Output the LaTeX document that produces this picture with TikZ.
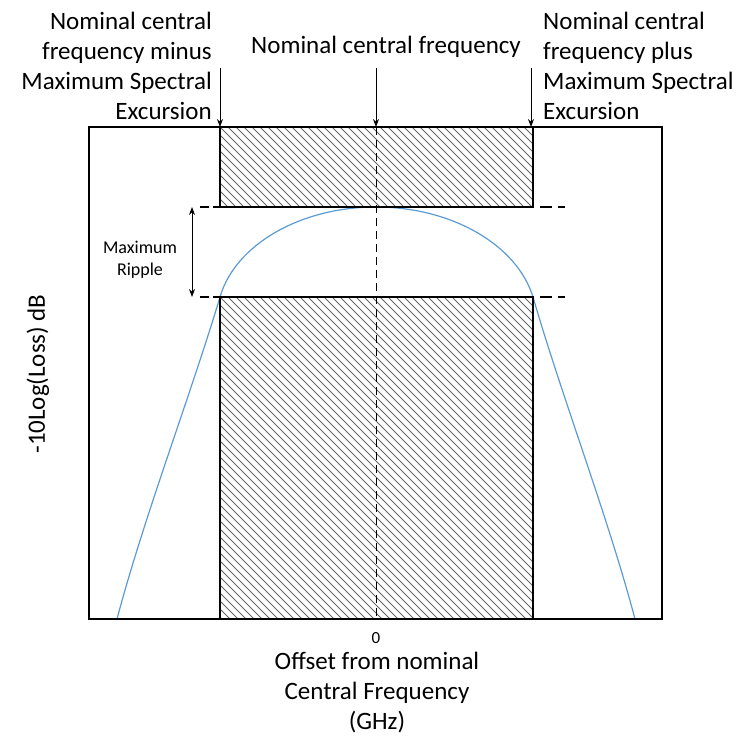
\documentclass[tikz,border=0pt]{standalone}
\usepackage{fontspec}
\setmainfont{Carlito}
\usetikzlibrary{arrows.meta}
\definecolor{curveblue}{HTML}{5B9BD5}
\begin{document}
\begin{tikzpicture}[x=1pt,y=-1pt,
  frame/.style={draw=black, line width=1.2pt},
  hatchline/.style={draw=black!60, line width=1pt},
  guide/.style={draw=black, line width=1pt, dash pattern=on 8pt off 5pt},
  extline/.style={draw=black, line width=1.1pt, dash pattern=on 9pt off 4pt},
  extlineR/.style={draw=black, line width=1.1pt, dash pattern=on 12pt off 6pt},
  pointer/.style={draw=black, line width=1pt, -{Stealth[length=8pt,width=6pt]}},
  twoway/.style={draw=black, line width=1pt, {Stealth[length=8pt,width=6pt]}-{Stealth[length=8pt,width=6pt]}},
  resp/.style={draw=curveblue, line width=1.2pt},
  biglabel/.style={font=\fontsize{25}{30}\selectfont, inner sep=0pt},
  smalllabel/.style={font=\fontsize{18}{22}\selectfont, inner sep=0pt, align=center},
  ticklabel/.style={font=\fontsize{17}{20}\selectfont, inner sep=0pt},
]
\useasboundingbox (0,0) rectangle (736,737);

% coordinates
\coordinate (boxTL) at (89,127);
\coordinate (boxBR) at (662,619);
\coordinate (hiTL) at (220,127);
\coordinate (hiBL) at (220,207);
\coordinate (hiBR) at (533,207);
\coordinate (loTL) at (220,297);
\coordinate (loBR) at (533,619);
\coordinate (peak) at (376,207);
\coordinate (cTop) at (376,127);
\coordinate (cBot) at (376,619);
\coordinate (lknee) at (220,297);
\coordinate (rknee) at (533,297);
\coordinate (lfoot) at (117,619);
\coordinate (rfoot) at (635,619);
\coordinate (rTopEnd) at (531,127);
\coordinate (aLstart) at (220,68);
\coordinate (aCstart) at (376,68);
\coordinate (aRstart) at (531,68);
\coordinate (rippleTop) at (192,207);
\coordinate (rippleBot) at (192,297);
\coordinate (extL1) at (200,207);
\coordinate (extL2) at (200,297);
\coordinate (extR1a) at (540,207);
\coordinate (extR1b) at (565,207);
\coordinate (extR2a) at (540,297);
\coordinate (extR2b) at (565,297);

% hatching
\begin{scope}
  \clip (hiTL) rectangle (hiBR);
  \foreach \i in {-92,-84,...,540} \draw[hatchline] (\i,127) -- ++(92,92);
\end{scope}
\begin{scope}
  \clip (loTL) rectangle (loBR);
  \foreach \i in {-332,-324,...,540} \draw[hatchline] (\i,297) -- ++(332,332);
\end{scope}

% response curve
\draw[resp] (lfoot) .. controls (144,517) and (190,397) .. (lknee)
  .. controls (235,245) and (300,207) .. (peak)
  .. controls (452,207) and (517,245) .. (rknee)
  .. controls (562,397) and (608,517) .. (rfoot);

% frames
\draw[frame] (boxTL) rectangle (boxBR);
\draw[frame] (hiTL) rectangle (hiBR);
\draw[frame] (loTL) rectangle (loBR);
\draw[guide] (cTop) -- (cBot);

% extension lines
\draw[extline] (extL1) -- (hiBL);
\draw[extline] (extL2) -- (lknee);
\draw[extlineR] (extR1a) -- (extR1b);
\draw[extlineR] (extR2a) -- (extR2b);

% arrows
\draw[pointer] (aLstart) -- (hiTL);
\draw[pointer] (aCstart) -- (cTop);
\draw[pointer] (aRstart) -- (rTopEnd);
\draw[twoway] (rippleTop) -- (rippleBot);

% labels
\node[biglabel, align=right, anchor=north east] (lminus) at (212,12)
  {Nominal central\\frequency minus\\Maximum Spectral\\Excursion};
\node[biglabel, align=left, anchor=north west] (lplus) at (543,12)
  {Nominal central\\frequency plus\\Maximum Spectral\\Excursion};
\node[biglabel, anchor=base] (lnom) at (386,53) {Nominal central frequency};
\node[smalllabel, anchor=north] (lripple) at (140,241) {Maximum\\Ripple};
\node[ticklabel, anchor=base] (lzero) at (376,643) {0};
\node[biglabel, align=center, anchor=north] (lxaxis) at (377,652)
  {Offset from nominal\\Central Frequency\\(GHz)};
\node[biglabel, rotate=90] (lyaxis) at (38,374) {-10Log(Loss) dB};
\end{tikzpicture}
\end{document}
